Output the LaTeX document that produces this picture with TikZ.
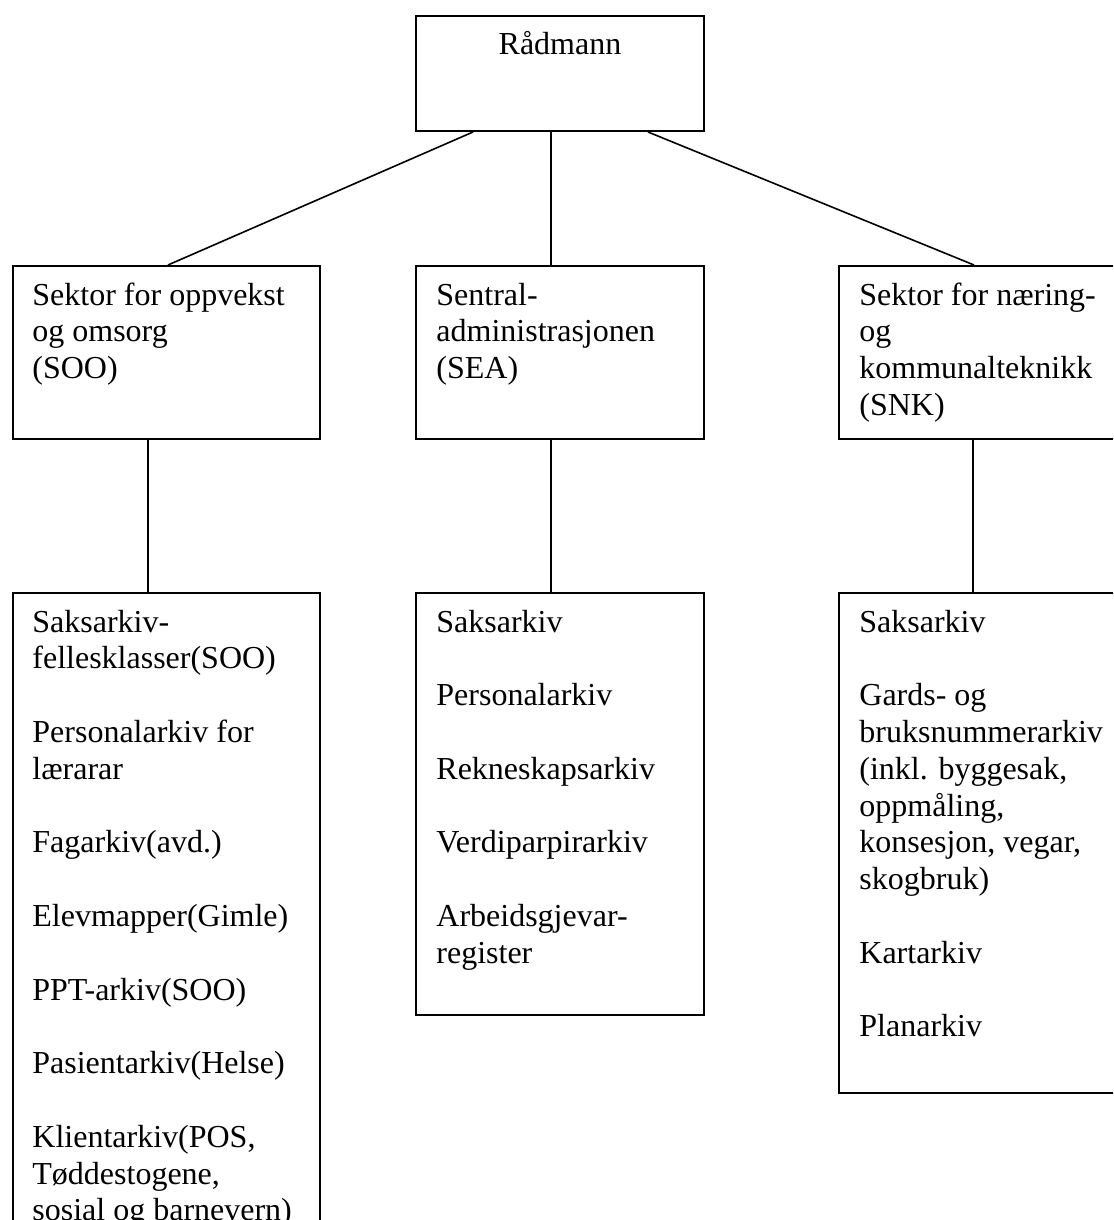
\documentclass[tikz,border=0pt]{standalone}
\usepackage{fontspec}
\setmainfont{Liberation Serif}

\newcommand{\blankrow}{\\[18.4pt]}

\begin{document}
\begin{tikzpicture}[x=0.5pt, y=-0.5pt,
    box/.style={draw, line width=1pt, rectangle, inner sep=0pt, anchor=north west},
    txt/.style={inner sep=0pt, font=\fontsize{16pt}{18.4pt}\selectfont},
    boxtext/.style={txt, anchor=base west, text width=150pt, align=flush left},
    link/.style={line width=0.8pt}]
    \useasboundingbox (0,0) rectangle (1113,1220);
    \clip (0,0) rectangle (1113,1220);
    % top
    \node[box, minimum width=144pt, minimum height=57.5pt] (radmann) at (415,15) {};
    \node[txt, anchor=base] at ([yshift=-20pt]radmann.north) {Rådmann};
    % sectors
    \node[box, minimum width=153.5pt, minimum height=86.5pt] (soo) at (12,265) {};
    \node[box, minimum width=144pt, minimum height=86.5pt] (sea) at (415,265) {};
    \node[box, minimum width=153.5pt, minimum height=86.5pt] (snk) at (838,265) {};
    \node[boxtext] at ([xshift=10pt, yshift=-20pt]soo.north west) {Sektor for oppvekst\\og omsorg\\(SOO)};
    \node[boxtext] at ([xshift=10.5pt, yshift=-20pt]sea.north west) {Sentral-\\administrasjonen\\(SEA)};
    \node[boxtext] at ([xshift=10.5pt, yshift=-20pt]snk.north west) {Sektor for næring-\\og\\kommunalteknikk\\(SNK)};
    % archives
    \node[box, minimum width=153.5pt, minimum height=350pt] (soolist) at (12,592) {};
    \node[box, minimum width=144pt, minimum height=211pt] (sealist) at (415,592) {};
    \node[box, minimum width=153.5pt, minimum height=250pt] (snklist) at (838,592) {};
    \node[boxtext] at ([xshift=10pt, yshift=-20pt]soolist.north west) {Saksarkiv-\\fellesklasser(SOO)\blankrow
        Personalarkiv for\\lærarar\blankrow Fagarkiv(avd.)\blankrow Elevmapper(Gimle)\blankrow
        PPT-arkiv(SOO)\blankrow Pasientarkiv(Helse)\blankrow Klientarkiv(POS,\\Tøddestogene,\\sosial og barnevern)};
    \node[boxtext] at ([xshift=10.5pt, yshift=-20pt]sealist.north west) {Saksarkiv\blankrow Personalarkiv\blankrow
        Rekneskapsarkiv\blankrow Verdiparpirarkiv\blankrow Arbeidsgjevar-\\register};
    \node[boxtext] at ([xshift=10.5pt, yshift=-20pt]snklist.north west) {Saksarkiv\blankrow Gards- og\\bruksnummerarkiv\\
        (inkl. byggesak,\\oppmåling,\\konsesjon, vegar,\\skogbruk)\blankrow Kartarkiv\blankrow Planarkiv};
    % connectors
    \draw[link] ([xshift=-43.5pt]radmann.south) -- ([xshift=0.75pt]soo.north);
    \draw[link] ([xshift=-4.5pt]radmann.south) -- ([xshift=-4.5pt]sea.north);
    \draw[link] ([xshift=44pt]radmann.south) -- ([xshift=-9.25pt]snk.north);
    \foreach \up/\down/\dx in {soo/soolist/-9.25pt, sea/sealist/-4.5pt, snk/snklist/-9.75pt}
        \draw[link] ([xshift=\dx]\up.south) -- ([xshift=\dx]\down.north);
\end{tikzpicture}
\end{document}
